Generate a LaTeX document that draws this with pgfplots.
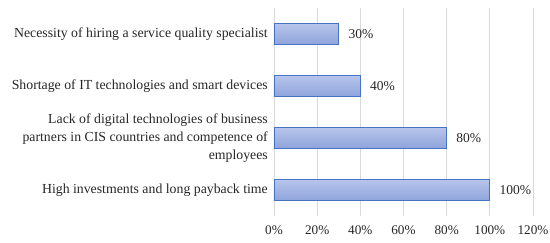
\documentclass[border=0pt]{standalone}
\usepackage{pgfplots}
\pgfplotsset{compat=1.18}
\usepackage{fontspec}
\setmainfont{Liberation Serif}
\definecolor{barborder}{HTML}{4472C4}
\definecolor{bartop}{HTML}{B8C5EB}
\definecolor{barbot}{HTML}{8FA4DC}
\definecolor{gridc}{HTML}{D9D9D9}
\definecolor{txt}{HTML}{262626}
\tikzset{barstyle/.style={draw=barborder, line width=0.9pt, top color=bartop, bottom color=barbot}}
\begin{document}
\begin{tikzpicture}
\path[use as bounding box] (-274pt,-27pt) rectangle (276pt,216pt);
\begin{axis}[
  scale only axis,
  width=259pt, height=208pt,
  xbar, bar width=21pt, bar shift=0pt,
  xmin=0, xmax=120, ymin=-0.5, ymax=3.5,
  xtick={0,20,...,120},
  ytick={0,1,2,3},
  yticklabels={{High investments and long payback time},
    {Lack of digital technologies of business\\partners in CIS countries and competence of\\employees},
    {Shortage of IT technologies and smart devices},
    {Necessity of hiring a service quality specialist}},
  yticklabel style={align=right, font=\fontsize{13.8}{18}\selectfont, inner sep=0pt, xshift=-6pt, text=txt},
  xticklabel={\pgfmathprintnumber{\tick}\%},
  xticklabel style={font=\fontsize{13.2}{15}\selectfont, yshift=-6pt, text=txt},
  /pgf/number format/assume math mode=true,
  axis line style={draw=none},
  major tick length=0pt,
  xmajorgrids, grid style={gridc, line width=0.8pt},
  nodes near coords={\pgfmathprintnumber{\pgfplotspointmeta}\%},
  nodes near coords style={font=\fontsize{13.5}{15}\selectfont, anchor=west, xshift=6pt, text=txt},
  point meta=x,
  clip=false,
]
\addplot[barstyle] coordinates {(100,0)};
\addplot[barstyle] coordinates {(80,1)};
\addplot[barstyle] coordinates {(40,2)};
\addplot[barstyle] coordinates {(30,3)};
\end{axis}
\end{tikzpicture}
\end{document}
